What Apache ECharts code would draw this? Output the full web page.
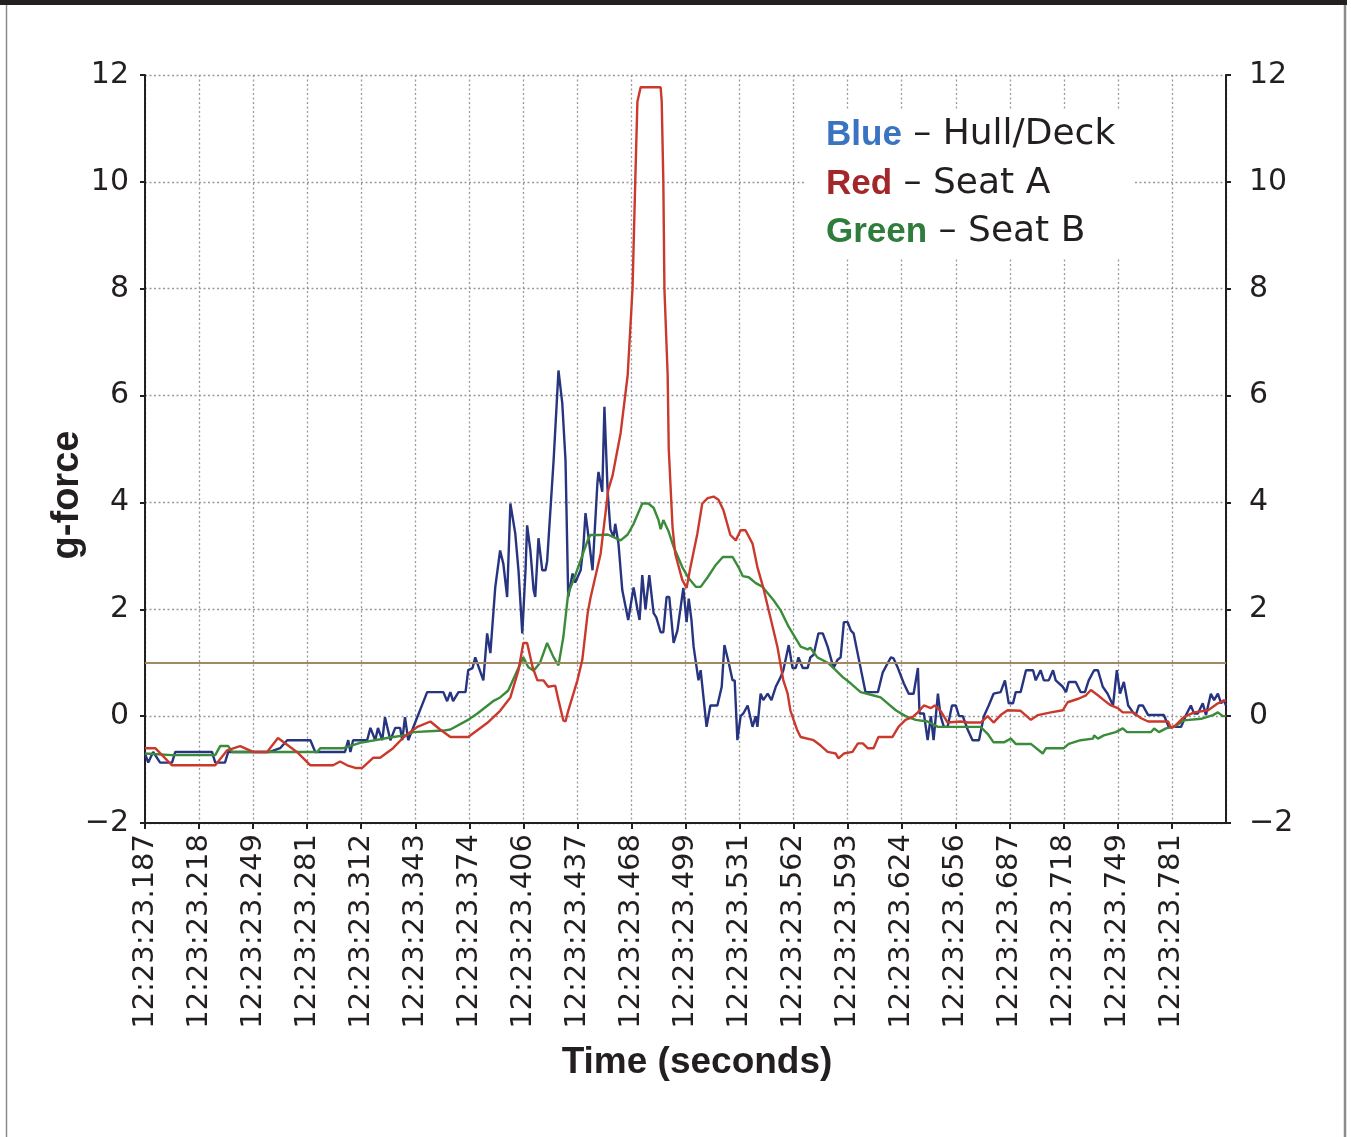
<!DOCTYPE html>
<html>
<head>
<meta charset="utf-8">
<title>g-force</title>
<script src="https://cdn.jsdelivr.net/npm/echarts@6/dist/echarts.min.js"></script>
<style>
  html, body { margin: 0; padding: 0; background: #fff; }
  #chart { width: 1351px; height: 1137px; }
</style>
</head>
<body>
<div id="chart"></div>
<script>
// x values are in tick steps (1 step = 31.25 ms from 12:23:23.187)
const tickLabels = ['12:23:23.187', '12:23:23.218', '12:23:23.249', '12:23:23.281', '12:23:23.312',
  '12:23:23.343', '12:23:23.374', '12:23:23.406', '12:23:23.437', '12:23:23.468',
  '12:23:23.499', '12:23:23.531', '12:23:23.562', '12:23:23.593', '12:23:23.624',
  '12:23:23.656', '12:23:23.687', '12:23:23.718', '12:23:23.749', '12:23:23.781'];

const threshold = 1;

// Blue – Hull/Deck
const hullDeck = [
  [0, -0.7], [0.06, -0.87], [0.15, -0.67], [0.28, -0.87], [0.5, -0.87], [0.56, -0.67], [1.24, -0.67],
  [1.3, -0.87], [1.48, -0.87], [1.54, -0.67], [1.94, -0.67], [2.31, -0.67], [2.5, -0.6], [2.63, -0.45],
  [3.06, -0.45], [3.15, -0.67], [3.7, -0.67], [3.76, -0.45], [3.8, -0.67], [3.85, -0.45], [4.11, -0.45],
  [4.17, -0.22], [4.26, -0.45], [4.31, -0.22], [4.39, -0.45], [4.44, -0.02], [4.54, -0.45], [4.63, -0.22],
  [4.72, -0.22], [4.76, -0.45], [4.81, -0.02], [4.87, -0.45], [5.22, 0.45], [5.52, 0.45], [5.59, 0.28],
  [5.65, 0.45], [5.7, 0.28], [5.8, 0.45], [5.93, 0.45], [5.98, 0.86], [6.06, 0.9], [6.11, 1.1],
  [6.26, 0.67], [6.33, 1.55], [6.39, 1.18], [6.48, 2.41], [6.57, 3.1], [6.63, 2.85], [6.7, 2.23],
  [6.76, 3.98], [6.85, 3.42], [6.91, 2.73], [6.98, 1.55], [7.04, 2.73], [7.07, 3.57], [7.13, 3.1],
  [7.19, 2.36], [7.22, 2.23], [7.28, 3.33], [7.35, 2.73], [7.41, 2.73], [7.44, 2.9], [7.56, 4.79],
  [7.65, 6.47], [7.72, 5.86], [7.78, 4.79], [7.83, 2.23], [7.91, 2.67], [7.96, 2.5], [8.06, 2.73],
  [8.11, 3.17], [8.15, 3.8], [8.2, 3.4], [8.28, 2.73], [8.37, 4.36], [8.39, 4.57], [8.46, 4.2],
  [8.5, 5.79], [8.56, 4.2], [8.61, 3.5], [8.67, 3.35], [8.7, 3.6], [8.76, 3.23], [8.83, 2.36],
  [8.94, 1.8], [9.04, 2.41], [9.11, 2.0], [9.15, 1.8], [9.2, 2.64], [9.26, 2.0], [9.33, 2.64],
  [9.41, 1.93], [9.46, 1.85], [9.54, 1.57], [9.59, 1.57], [9.65, 2.23], [9.7, 2.23], [9.78, 1.37],
  [9.85, 1.6], [9.96, 2.4], [10.02, 1.76], [10.06, 2.2], [10.11, 1.8], [10.15, 1.3], [10.24, 0.67],
  [10.28, 0.86], [10.39, -0.2], [10.46, 0.2], [10.59, 0.2], [10.67, 0.55], [10.72, 1.33], [10.8, 1.0],
  [10.87, 0.67], [10.91, 0.67], [10.96, -0.45], [11.02, 0.0], [11.07, 0.05], [11.15, 0.2], [11.24, -0.2],
  [11.3, 0.0], [11.33, -0.2], [11.39, 0.42], [11.44, 0.3], [11.52, 0.42], [11.59, 0.3], [11.67, 0.55],
  [11.76, 0.73], [11.81, 0.86], [11.91, 1.33], [11.98, 0.9], [12.04, 0.9], [12.09, 1.1], [12.17, 0.9],
  [12.26, 0.9], [12.31, 1.1], [12.37, 1.15], [12.46, 1.55], [12.54, 1.55], [12.63, 1.3], [12.74, 0.9],
  [12.81, 1.05], [12.87, 1.1], [12.93, 1.76], [13.0, 1.76], [13.06, 1.6], [13.11, 1.55], [13.2, 1.1],
  [13.33, 0.45], [13.56, 0.45], [13.65, 0.82], [13.74, 0.99], [13.8, 1.1], [13.85, 1.08], [13.93, 0.9],
  [14.04, 0.61], [14.13, 0.42], [14.22, 0.42], [14.3, 0.9], [14.33, 0.05], [14.41, 0.05], [14.48, -0.45],
  [14.54, 0.0], [14.59, -0.45], [14.67, 0.42], [14.72, 0.0], [14.78, -0.2], [14.85, -0.2], [14.93, 0.2],
  [15.0, 0.2], [15.06, 0.0], [15.13, 0.0], [15.22, -0.25], [15.31, -0.45], [15.43, -0.45], [15.52, 0.0],
  [15.61, 0.2], [15.7, 0.42], [15.83, 0.45], [15.91, 0.67], [15.98, 0.24], [16.06, 0.24], [16.11, 0.45],
  [16.2, 0.45], [16.3, 0.86], [16.43, 0.86], [16.48, 0.67], [16.57, 0.86], [16.63, 0.67], [16.72, 0.67],
  [16.8, 0.86], [16.85, 0.67], [16.98, 0.55], [17.04, 0.45], [17.09, 0.64], [17.22, 0.64], [17.31, 0.45],
  [17.39, 0.45], [17.46, 0.67], [17.56, 0.86], [17.63, 0.86], [17.72, 0.55], [17.81, 0.42], [17.91, 0.2],
  [17.98, 0.86], [18.04, 0.42], [18.11, 0.64], [18.19, 0.2], [18.28, 0.07], [18.33, 0.02], [18.39, 0.2],
  [18.46, 0.2], [18.56, 0.02], [18.85, 0.02], [18.94, -0.2], [19.17, -0.2], [19.26, 0.02], [19.35, 0.2],
  [19.41, 0.05], [19.48, 0.05], [19.57, 0.24], [19.63, 0.02], [19.72, 0.42], [19.78, 0.3], [19.85, 0.42],
  [19.91, 0.24], [19.96, 0.3], [20, 0.2]
];

// Red – Seat A
const seatA = [
  [0, -0.6], [0.19, -0.6], [0.5, -0.92], [1.3, -0.92], [1.52, -0.64], [1.76, -0.56], [2.0, -0.67],
  [2.26, -0.67], [2.46, -0.41], [2.81, -0.67], [3.06, -0.92], [3.48, -0.92], [3.61, -0.85], [3.74, -0.92],
  [3.89, -0.97], [4.02, -0.97], [4.22, -0.78], [4.35, -0.78], [4.59, -0.6], [4.78, -0.4], [5.04, -0.2],
  [5.28, -0.1], [5.46, -0.25], [5.65, -0.39], [5.98, -0.39], [6.33, -0.13], [6.57, 0.1], [6.76, 0.35],
  [6.91, 0.86], [7.0, 1.37], [7.07, 1.37], [7.17, 0.92], [7.26, 0.67], [7.37, 0.67], [7.46, 0.55],
  [7.59, 0.57], [7.65, 0.3], [7.74, -0.08], [7.78, -0.1], [7.83, 0.1], [8.0, 0.67], [8.09, 1.05],
  [8.19, 1.93], [8.24, 2.2], [8.43, 3.04], [8.57, 4.23], [8.65, 4.5], [8.8, 5.3], [8.93, 6.38],
  [9.02, 8.0], [9.07, 9.99], [9.11, 11.5], [9.17, 11.77], [9.54, 11.77], [9.56, 11.5], [9.59, 10.0],
  [9.61, 8.0], [9.67, 6.38], [9.69, 5.0], [9.76, 3.54], [9.81, 3.04], [9.94, 2.55], [10.02, 2.4],
  [10.09, 2.78], [10.22, 3.42], [10.31, 3.98], [10.41, 4.08], [10.52, 4.11], [10.61, 4.05], [10.7, 3.86],
  [10.83, 3.39], [10.93, 3.29], [11.02, 3.48], [11.11, 3.48], [11.24, 3.23], [11.33, 2.79], [11.44, 2.4],
  [11.57, 1.85], [11.7, 1.3], [11.81, 0.67], [11.89, 0.42], [11.94, 0.11], [12.0, -0.07], [12.07, -0.27],
  [12.13, -0.39], [12.37, -0.45], [12.5, -0.55], [12.63, -0.67], [12.78, -0.7], [12.83, -0.79],
  [12.93, -0.7], [13.09, -0.67], [13.19, -0.51], [13.28, -0.51], [13.37, -0.6], [13.48, -0.6],
  [13.57, -0.39], [13.83, -0.39], [13.94, -0.2], [14.07, -0.07], [14.2, -0.02], [14.3, 0.07], [14.41, 0.2],
  [14.54, 0.15], [14.61, 0.2], [14.72, 0.1], [14.85, -0.12], [15.09, -0.1], [15.22, -0.12], [15.46, -0.12],
  [15.59, 0.0], [15.7, -0.12], [15.83, 0.02], [15.96, 0.11], [16.2, 0.1], [16.39, -0.07], [16.52, 0.02],
  [16.76, 0.07], [16.98, 0.11], [17.07, 0.26], [17.28, 0.33], [17.41, 0.39], [17.5, 0.49], [17.63, 0.39],
  [17.74, 0.3], [17.87, 0.2], [18.0, 0.15], [18.09, 0.07], [18.28, 0.07], [18.43, -0.04], [18.56, -0.1],
  [18.93, -0.1], [18.98, -0.22], [19.07, -0.17], [19.22, -0.02], [19.41, 0.07], [19.67, 0.11],
  [19.85, 0.24], [20, 0.3]
];

// Green – Seat B
const seatB = [
  [0, -0.7], [0.5, -0.73], [1.3, -0.73], [1.39, -0.56], [1.54, -0.56], [1.61, -0.67], [3.19, -0.67],
  [3.24, -0.6], [3.67, -0.6], [3.98, -0.5], [4.48, -0.41], [4.85, -0.35], [4.96, -0.3], [5.52, -0.27],
  [5.65, -0.25], [5.96, -0.08], [6.15, 0.05], [6.44, 0.28], [6.57, 0.35], [6.72, 0.48], [6.89, 0.86],
  [7.0, 1.1], [7.09, 0.92], [7.19, 0.85], [7.31, 1.0], [7.44, 1.37], [7.56, 1.1], [7.65, 0.95],
  [7.74, 1.48], [7.83, 2.3], [7.93, 2.55], [8.06, 2.92], [8.19, 3.29], [8.24, 3.39], [8.43, 3.39],
  [8.56, 3.4], [8.8, 3.29], [8.93, 3.4], [9.04, 3.6], [9.2, 3.98], [9.31, 3.98], [9.41, 3.9], [9.5, 3.67],
  [9.54, 3.5], [9.59, 3.67], [9.69, 3.45], [9.78, 3.17], [9.94, 2.79], [10.06, 2.58], [10.19, 2.42],
  [10.28, 2.42], [10.41, 2.6], [10.56, 2.83], [10.69, 2.98], [10.87, 2.98], [10.98, 2.79], [11.06, 2.62],
  [11.17, 2.6], [11.3, 2.49], [11.43, 2.42], [11.48, 2.35], [11.63, 2.17], [11.76, 1.98], [11.91, 1.67],
  [12.13, 1.3], [12.26, 1.25], [12.31, 1.28], [12.44, 1.1], [12.63, 1.0], [12.74, 0.9], [12.91, 0.73],
  [13.06, 0.61], [13.24, 0.45], [13.43, 0.4], [13.61, 0.35], [13.74, 0.24], [13.89, 0.11], [14.07, 0.0],
  [14.26, -0.07], [14.48, -0.1], [14.67, -0.2], [15.46, -0.2], [15.59, -0.33], [15.7, -0.49],
  [15.89, -0.49], [16.02, -0.42], [16.11, -0.52], [16.39, -0.52], [16.61, -0.7], [16.67, -0.6],
  [17.0, -0.6], [17.09, -0.52], [17.31, -0.45], [17.54, -0.42], [17.56, -0.36], [17.63, -0.42],
  [17.74, -0.36], [17.96, -0.3], [18.09, -0.23], [18.17, -0.3], [18.61, -0.3], [18.67, -0.23],
  [18.76, -0.3], [18.89, -0.23], [19.04, -0.2], [19.22, -0.08], [19.54, -0.05], [19.76, 0.02],
  [19.85, 0.07], [19.94, 0.0], [20, 0.0]
];

const chart = echarts.init(document.getElementById('chart'));

const ink = '#231f20';
const numFont = 'DejaVu Sans';
const boldFont = 'Liberation Sans';
const dotted = { color: '#999', width: 1.3, type: [2, 2.5] };

function yLabel(v) {
  return String(v).replace('-', '\u2212');
}

function valueAxis(pos) {
  return {
    type: 'value',
    position: pos,
    min: -2,
    max: 12,
    interval: 2,
    axisLine: { show: true, lineStyle: { color: ink, width: 2 } },
    axisTick: { show: true, length: 5, lineStyle: { color: ink, width: 2 } },
    axisLabel: {
      color: ink, fontFamily: numFont, fontSize: 30,
      margin: pos === 'left' ? 16 : 23,
      formatter: yLabel
    },
    splitLine: { show: pos === 'left', lineStyle: dotted }
  };
}

function legendLine(top, word, colour, rest) {
  return {
    type: 'text', z: 11, left: 826, top: top,
    style: {
      text: '{b|' + word + '}{t| \u2013 ' + rest + '}',
      rich: {
        b: { fontFamily: boldFont, fontWeight: 'bold', fontSize: 35, fill: colour },
        t: { fontFamily: numFont, fontSize: 36, fill: ink }
      }
    }
  };
}

const option = {
  backgroundColor: '#fff',
  animation: false,
  grid: { left: 145, right: 125, top: 75, bottom: 314 },
  xAxis: {
    type: 'value',
    min: 0,
    max: 20,
    interval: 1,
    axisLine: { show: true, onZero: false, lineStyle: { color: ink, width: 2 } },
    axisTick: { show: true, length: 6, lineStyle: { color: ink, width: 2 } },
    axisLabel: {
      rotate: 90,
      margin: 11,
      color: ink, fontFamily: numFont, fontSize: 29,
      showMaxLabel: false,
      formatter: function (v) { return tickLabels[v] || ''; }
    },
    splitLine: { show: true, lineStyle: dotted }
  },
  yAxis: [valueAxis('left'), valueAxis('right')],
  series: [
    {
      name: 'Hull/Deck', type: 'line', data: hullDeck, showSymbol: false,
      lineStyle: { color: '#27347f', width: 2.4 }, z: 3,
      markLine: {
        silent: true, symbol: 'none', label: { show: false },
        lineStyle: { color: '#a08a66', width: 2, type: 'solid' },
        data: [{ yAxis: threshold }]
      }
    },
    {
      name: 'Seat B', type: 'line', data: seatB, showSymbol: false,
      lineStyle: { color: '#3a8c3a', width: 2.4 }, z: 4
    },
    {
      name: 'Seat A', type: 'line', data: seatA, showSymbol: false,
      lineStyle: { color: '#c9392c', width: 2.4 }, z: 5
    }
  ],
  graphic: [
    { type: 'rect', z: 0, shape: { x: 0, y: 0, width: 1347, height: 5 }, style: { fill: '#231f20' } },
    { type: 'line', z: 0, shape: { x1: 6.5, y1: 5, x2: 6.5, y2: 1137 }, style: { stroke: '#8c8c8c', lineWidth: 1.5 } },
    { type: 'line', z: 0, shape: { x1: 1345, y1: 5, x2: 1345, y2: 1137 }, style: { stroke: '#8c8c8c', lineWidth: 2.5 } },
    { type: 'rect', z: 10, shape: { x: 806, y: 110, width: 328, height: 147 }, style: { fill: '#fff' } },
    legendLine(117, 'Blue', '#3a74c0', 'Hull/Deck'),
    legendLine(166, 'Red', '#a3262a', 'Seat A'),
    legendLine(214, 'Green', '#2e7d3c', 'Seat B'),
    {
      type: 'text', z: 11, x: 697, y: 1063,
      style: {
        text: 'Time (seconds)', fontFamily: boldFont, fontWeight: 'bold', fontSize: 37,
        fill: ink, align: 'center', verticalAlign: 'middle'
      }
    },
    {
      type: 'text', z: 11, x: 68, y: 495, rotation: Math.PI / 2,
      style: {
        text: 'g-force', fontFamily: boldFont, fontWeight: 'bold', fontSize: 38,
        fill: ink, align: 'center', verticalAlign: 'middle'
      }
    }
  ]
};

chart.setOption(option);
</script>
</body>
</html>
